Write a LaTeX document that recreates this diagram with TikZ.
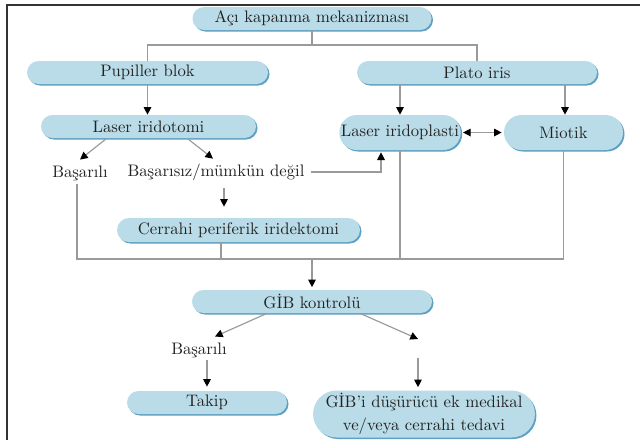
\documentclass[tikz,border=0pt]{standalone}
\usetikzlibrary{arrows.meta,shapes.misc,shadows,calc}
\definecolor{pill}{HTML}{BADCE8}
\definecolor{pilledge}{HTML}{5E9FC2}
\definecolor{conn}{HTML}{9A9A9A}
\definecolor{txt}{HTML}{222222}
\definecolor{frame}{HTML}{333333}
\begin{document}
\begin{tikzpicture}[x=0.6pt,y=-0.6pt,
  pillbox/.style={rounded rectangle, fill=pill, inner sep=0pt, text=txt,
    font=\fontsize{10}{13.8}\selectfont,
    copy shadow={shadow xshift=0.9pt, shadow yshift=-0.9pt, fill=pilledge, draw=none}},
  pw/.style={minimum width=#1*0.6pt},
  ph/.style={minimum height=#1*0.6pt},
  lbl/.style={text=txt, font=\fontsize{10}{12}\selectfont, inner sep=1pt},
  cn/.style={draw=conn, line width=0.7pt},
  arr/.style={cn, -{Triangle[width=4.6pt,length=4.6pt,color=black]}},
  darr/.style={cn, {Triangle[width=4.6pt,length=4.6pt,color=black]}-{Triangle[width=4.6pt,length=4.6pt,color=black]}}
]
\useasboundingbox (0,0) rectangle (640,440);
\fill[white] (0,0) rectangle (640,440);
\draw[line width=1.1pt, frame] (7,440) -- (7,5) -- (640,5);

% nodes
\node[pillbox, pw=239, ph=23] (top) at (312,18.5) {Açı kapanma mekanizması};
\node[pillbox, pw=241, ph=23] (pupil) at (147.5,72.5) {Pupiller blok};
\node[pillbox, pw=240, ph=23] (plato) at (477,72.5) {Plato iris};
\node[pillbox, pw=215, ph=23] (lirid) at (148.5,126.5) {Laser iridotomi};
\node[pillbox, pw=118, ph=35] (lirido) at (400,132.5) {Laser iridoplasti};
\node[pillbox, pw=119, ph=35] (miotik) at (563.5,132.5) {Miotik};
\node[pillbox, pw=243, ph=24] (cerrahi) at (238.5,230) {Cerrahi periferik iridektomi};
\node[pillbox, pw=240, ph=23] (gib) at (312,301.5) {GİB kontrolü};
\node[pillbox, pw=160, ph=23] (takip) at (207,402.5) {Takip};
\node[pillbox, pw=218, ph=47, align=center] (gibi) at (424,414) {GİB’i düşürücü ek medikal\\ve/veya cerrahi tedavi};

\node[lbl] (bas1) at (80,173) {Başarılı};
\node[lbl] (basz) at (216,172) {Başarısız/mümkün değil};
\node[lbl] (bas2) at (199,350) {Başarılı};

\coordinate (split) at (312,45);
\coordinate (j) at (312,259);
\coordinate (blank) at (418,349);

% connectors
\draw[cn] (top.south) -- (split);
\draw[cn] (pupil.north) |- (split) -| (plato.north);
\draw[arr] (pupil.south) -- (pupil.south |- lirid.north);
\draw[arr] ($(plato.south)+(-77,0)$) coordinate (p1) -- (p1 |- lirido.north);
\draw[arr] ($(plato.south)+(88,0)$) coordinate (p2) -- (p2 |- miotik.north);
\draw[darr] ($(lirido.east)+(2,0)$) -- ($(miotik.west)+(-2,0)$);

\draw[arr] ($(lirid.south)+(-43,1)$) -- ($(bas1.north)+(0,-4)$);
\draw[arr] ($(lirid.south)+(40,1)$) -- ($(basz.north)+(-3,-3)$);
\draw[arr] ($(basz.east)+(5,0)$) -| ($(lirido.south)+(-19,2)$);
\draw[arr] ($(basz.south)+(8,6)$) -- ($(cerrahi.north)+(-14.5,-11)$);

\draw[cn] ($(bas1.south)+(-3,2)$) |- (j) -| (miotik.south);
\draw[cn] ($(cerrahi.south)+(-17.5,0)$) coordinate (cs) -- (cs |- j);
\draw[cn] (lirido.south) -- (lirido.south |- j);
\draw[arr, shorten >=1.5pt] (j) -- (gib.north);

\draw[arr] ($(gib.south)+(-45,0)$) -- ($(bas2.north)+(16,-4)$);
\draw[arr] ($(bas2.south)+(8,1)$) -- ($(takip.north)+(0,-4)$);
\draw[arr] ($(gib.south)+(48,0)$) -- ($(blank)+(0,-10)$);
\draw[arr] ($(blank)+(0,9)$) -- ($(gibi.north)+(-6,-3)$);
\end{tikzpicture}
\end{document}
